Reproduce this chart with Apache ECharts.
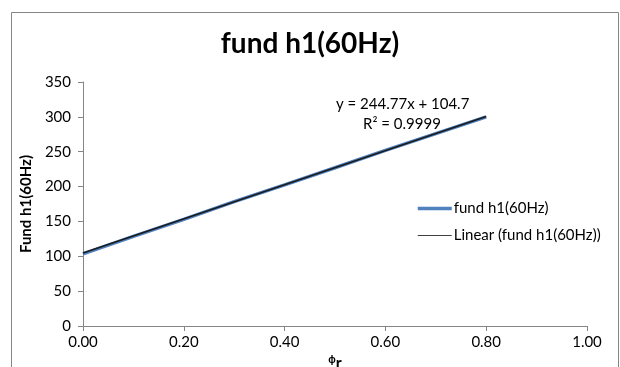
<!DOCTYPE html>
<html><head><meta charset="utf-8">
<script src="https://cdn.jsdelivr.net/npm/echarts@6/dist/echarts.min.js"></script>
<style>html,body{margin:0;padding:0;background:#fff}#c{width:620px;height:367px}</style>
</head><body><div id="c"></div>
<script>
const xValues = [0, 0.1, 0.2, 0.3, 0.4, 0.5, 0.6, 0.7, 0.8];
const fundH1 = [103.5, 128.5, 153, 178.5, 202.5, 227, 252, 276, 300];
const trendX = [0, 0.8];
const trendY = [104.7, 300.5];
const titleText = 'fund h1(60Hz)';
const seriesName = 'fund h1(60Hz)';
const trendName = 'Linear (fund h1(60Hz))';
const eqLines = ['y = 244.77x + 104.7', 'R² = 0.9999'];
const FONT = 'Lato, "Open Sans", sans-serif';

const chart = echarts.init(document.getElementById('c'));
chart.setOption({
  animation: false,
  title: {text: titleText, left: 'center', top: 25,
    textStyle: {fontFamily: FONT, fontSize: 28, fontWeight: 'bold', color: '#000'}},
  grid: {left: 83, right: 33, top: 82, bottom: 41, containLabel: false, outerBoundsMode: 'none'},
  legend: {
    orient: 'vertical', left: 411, top: 196, itemGap: 12, itemWidth: 34, itemHeight: 16,
    itemStyle: {opacity: 0},
    textStyle: {fontFamily: FONT, fontSize: 15, color: '#000', padding: [0, 0, 0, -3]},
    data: [
      {name: seriesName, lineStyle: {color: '#4F81BD', width: 3.5}},
      {name: trendName, lineStyle: {color: '#404040', width: 1}}
    ]
  },
  xAxis: {
    type: 'value', min: 0, max: 1, interval: 0.2,
    name: '{a|ϕ}{b|r}', nameLocation: 'middle', nameGap: 26,
    nameTextStyle: {rich: {a: {fontSize: 10, fontWeight: 'bold', color: '#000', verticalAlign: 'top'}, b: {fontSize: 16, fontWeight: 'bold', color: '#000', fontFamily: FONT}}},
    axisLine: {lineStyle: {color: '#868686'}},
    axisTick: {lineStyle: {color: '#868686'}, length: 5},
    splitLine: {show: false},
    axisLabel: {fontFamily: FONT, fontSize: 15, color: '#000', margin: 9, formatter: v => v.toFixed(2)}
  },
  yAxis: {
    type: 'value', min: 0, max: 350, interval: 50,
    name: 'Fund h1(60Hz)', nameLocation: 'middle', nameGap: 48, nameRotate: 90,
    nameTextStyle: {fontFamily: FONT, fontSize: 15, fontWeight: 'bold', color: '#000'},
    axisLine: {show: true, lineStyle: {color: '#868686'}},
    axisTick: {show: true, lineStyle: {color: '#868686'}, length: 5},
    splitLine: {show: false},
    axisLabel: {fontFamily: FONT, fontSize: 15, color: '#000', margin: 12}
  },
  series: [
    {name: seriesName, type: 'line', symbol: 'none', data: xValues.map((x, i) => [x, fundH1[i]]),
      lineStyle: {color: '#4F81BD', width: 3.5}, itemStyle: {color: '#4F81BD'}},
    {name: trendName, type: 'line', symbol: 'none', data: trendX.map((x, i) => [x, trendY[i]]),
      lineStyle: {color: '#1a1a1a', width: 1.5}, itemStyle: {color: '#404040'}}
  ],
  graphic: [
    {type: 'rect', left: 9, top: 10, shape: {width: 607, height: 380}, style: {fill: 'none', stroke: '#868686', lineWidth: 1}, silent: true},
    {type: 'text', left: 336, top: 97, style: {text: eqLines[0], font: '15px ' + FONT, fill: '#000'}},
    {type: 'text', left: 363, top: 117, style: {text: eqLines[1], font: '15px ' + FONT, fill: '#000'}}
  ]
});
</script></body></html>
